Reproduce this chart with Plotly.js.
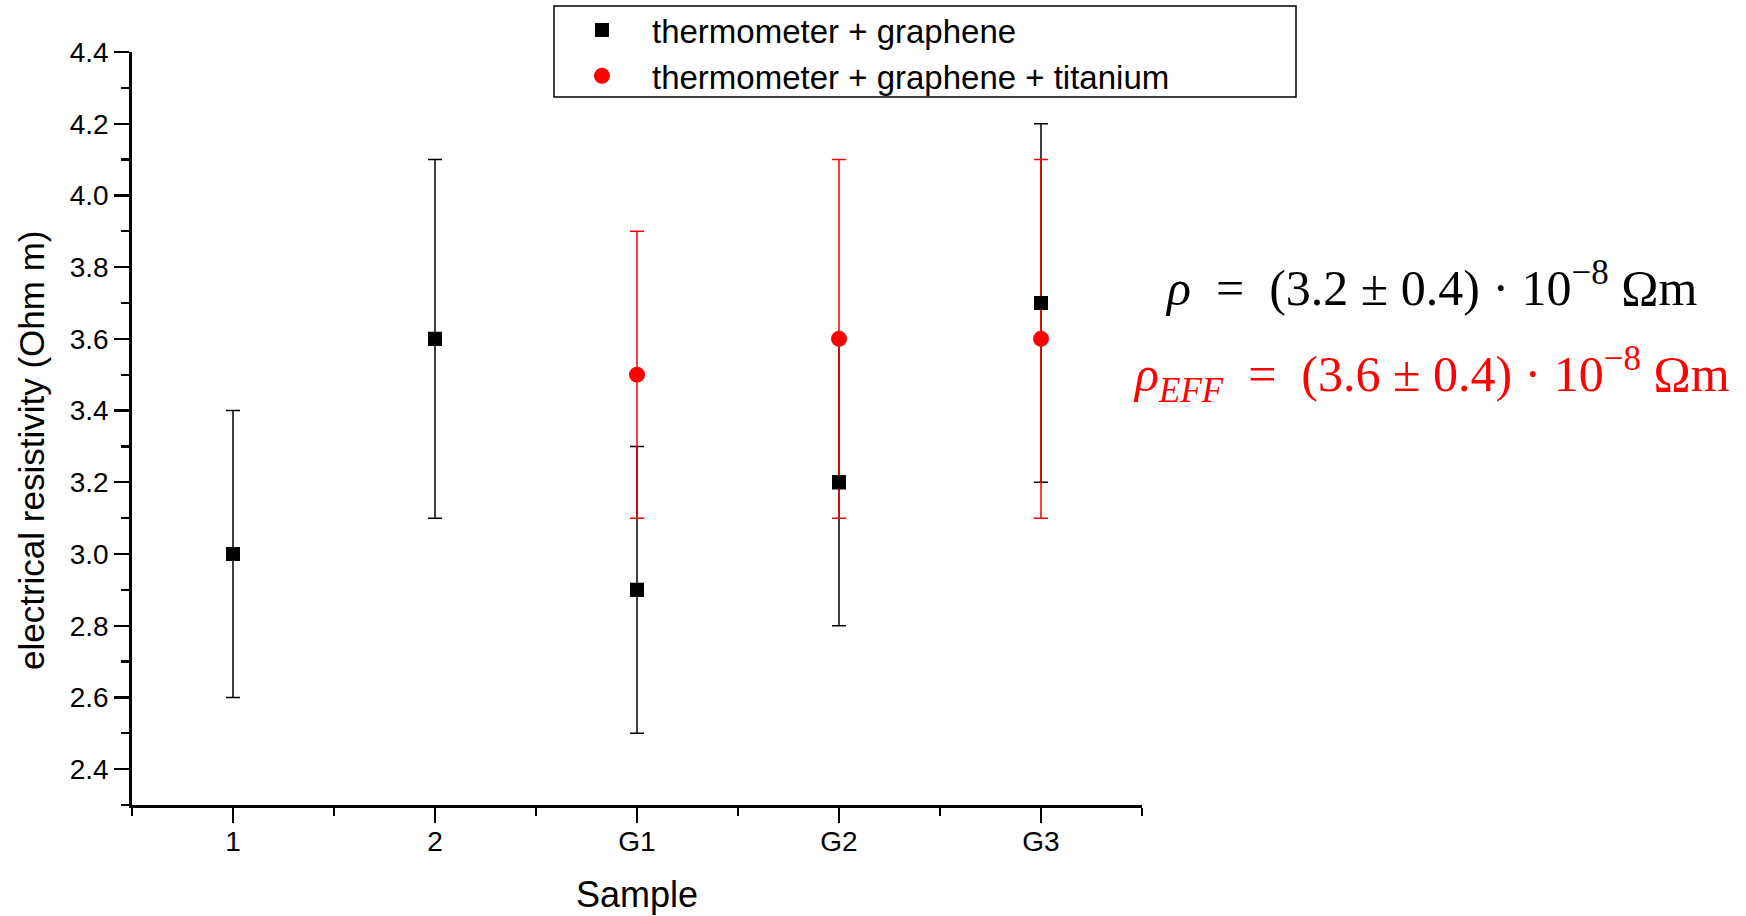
<!DOCTYPE html>
<html>
<head>
<meta charset="utf-8">
<script src="https://cdn.plot.ly/plotly-3.0.1.min.js"></script>
<style>
  html, body { margin: 0; padding: 0; background: #fff; }
  #chart { width: 1746px; height: 916px; }
</style>
</head>
<body>
<div id="chart"></div>
<script>
// ---- data ----
const samples = ['1', '2', 'G1', 'G2', 'G3'];

const graphValues = [3.0, 3.6, 2.9, 3.2, 3.7];
const graphErrors = [0.4, 0.5, 0.4, 0.4, 0.5];

const titaniumSamples = ['G1', 'G2', 'G3'];
const titaniumValues = [3.5, 3.6, 3.6];
const titaniumErrors = [0.4, 0.5, 0.5];

const seriesNames = ['thermometer + graphene', 'thermometer + graphene + titanium'];
const yTickValues = [2.4, 2.6, 2.8, 3.0, 3.2, 3.4, 3.6, 3.8, 4.0, 4.2, 4.4];

// ---- derived positions (numeric axis with category labels) ----
const samplePos = samples.map((s, i) => i + 1);
const titaniumPos = titaniumSamples.map(s => samples.indexOf(s) + 1);
const minorX = samples.map((s, i) => i + 0.5).concat([samples.length + 0.5]);

const font = 'Liberation Sans, Arial, sans-serif';
const serif = 'Liberation Serif, Times New Roman, serif';
const NB = '\u00A0';

const blackTrace = {
  type: 'scatter', mode: 'markers', name: seriesNames[0],
  x: samplePos, y: graphValues,
  marker: { symbol: 'square', size: 14, color: '#000' },
  error_y: { type: 'data', array: graphErrors, visible: true, color: '#000', thickness: 1.5, width: 7 },
  legendrank: 1
};
const redTrace = {
  type: 'scatter', mode: 'markers', name: seriesNames[1],
  x: titaniumPos, y: titaniumValues,
  marker: { symbol: 'circle', size: 16, color: '#ff0000' },
  error_y: { type: 'data', array: titaniumErrors, visible: true, color: '#ff0000', thickness: 1.5, width: 7 },
  legendrank: 2
};
// black markers re-drawn on top (no legend entry)
const blackTop = {
  type: 'scatter', mode: 'markers', showlegend: false, hoverinfo: 'skip',
  x: samplePos, y: graphValues,
  marker: { symbol: 'square', size: 14, color: '#000' }
};

const eq1 = '<i>ρ</i>' + NB + ' = ' + NB + '(3.2 ± 0.4)' + NB + '·' + NB + '10<sup>−8</sup>' + NB + 'Ωm';
const eq2 = '<i>ρ<sub>EFF</sub></i>' + NB + ' = ' + NB + '(3.6 ± 0.4)' + NB + '·' + NB + '10<sup>−8</sup>' + NB + 'Ωm';

const layout = {
  width: 1746, height: 916,
  margin: { l: 132, r: 604, t: 52, b: 111, autoexpand: false },
  paper_bgcolor: '#fff', plot_bgcolor: '#fff',
  font: { family: font, color: '#000', size: 28 },
  showlegend: true,
  legend: {
    x: 0.4158, y: (805 - 2) / 753, xanchor: 'left', yanchor: 'top',
    bgcolor: 'rgba(0,0,0,0)', borderwidth: 0,
    font: { family: font, size: 33, color: '#000' },
    itemwidth: 90, tracegroupgap: 0
  },
  xaxis: {
    range: [0.5, samples.length + 0.5],
    tickmode: 'array', tickvals: samplePos, ticktext: samples,
    showgrid: false, zeroline: false,
    showline: true, linecolor: '#000', linewidth: 2.8,
    ticks: 'outside', ticklen: 15, tickwidth: 2.2, tickcolor: '#000',
    tickfont: { family: font, size: 28 },
    ticklabelstandoff: -5,
    minor: { tickmode: 'array', tickvals: minorX, ticks: 'outside', ticklen: 8, tickwidth: 2.2, tickcolor: '#000', showgrid: false },
    title: { text: 'Sample', font: { family: font, size: 36 }, standoff: 26 },
    fixedrange: true
  },
  yaxis: {
    range: [2.3, 4.4],
    tickmode: 'array', tickvals: yTickValues, ticktext: yTickValues.map(v => v.toFixed(1)),
    showgrid: false, zeroline: false,
    showline: true, linecolor: '#000', linewidth: 2.8,
    ticks: 'outside', ticklen: 15, tickwidth: 2.2, tickcolor: '#000',
    tickfont: { family: font, size: 28 },
    minor: { dtick: 0.1, tick0: 2.3, ticks: 'outside', ticklen: 8, tickwidth: 2.2, tickcolor: '#000', showgrid: false },
    fixedrange: true
  },
  shapes: [
    { type: 'rect', xref: 'paper', yref: 'paper',
      x0: (554 - 132) / 1010, x1: (1296 - 132) / 1010,
      y0: (805 - 97) / 753, y1: (805 - 6) / 753,
      line: { color: '#000', width: 1.5 }, fillcolor: 'rgba(0,0,0,0)', layer: 'above' }
  ],
  annotations: [
    { text: 'electrical resistivity (Ohm m)', textangle: -90, xref: 'paper', yref: 'paper',
      x: (31 - 132) / 1010, y: (805 - 451) / 753, xanchor: 'center', yanchor: 'middle',
      showarrow: false, font: { family: font, size: 35, color: '#000' } },
    { text: eq1, xref: 'paper', yref: 'paper',
      x: (1431 - 132) / 1010, y: (805 - 284) / 753, xanchor: 'center', yanchor: 'middle',
      showarrow: false, font: { family: serif, size: 50, color: '#000' } },
    { text: eq2, xref: 'paper', yref: 'paper',
      x: (1431 - 132) / 1010, y: (805 - 375) / 753, xanchor: 'center', yanchor: 'middle',
      showarrow: false, font: { family: serif, size: 50, color: '#ff0000' } }
  ]
};

Plotly.newPlot('chart', [blackTrace, redTrace, blackTop], layout, { displayModeBar: false, staticPlot: true });
</script>
</body>
</html>
